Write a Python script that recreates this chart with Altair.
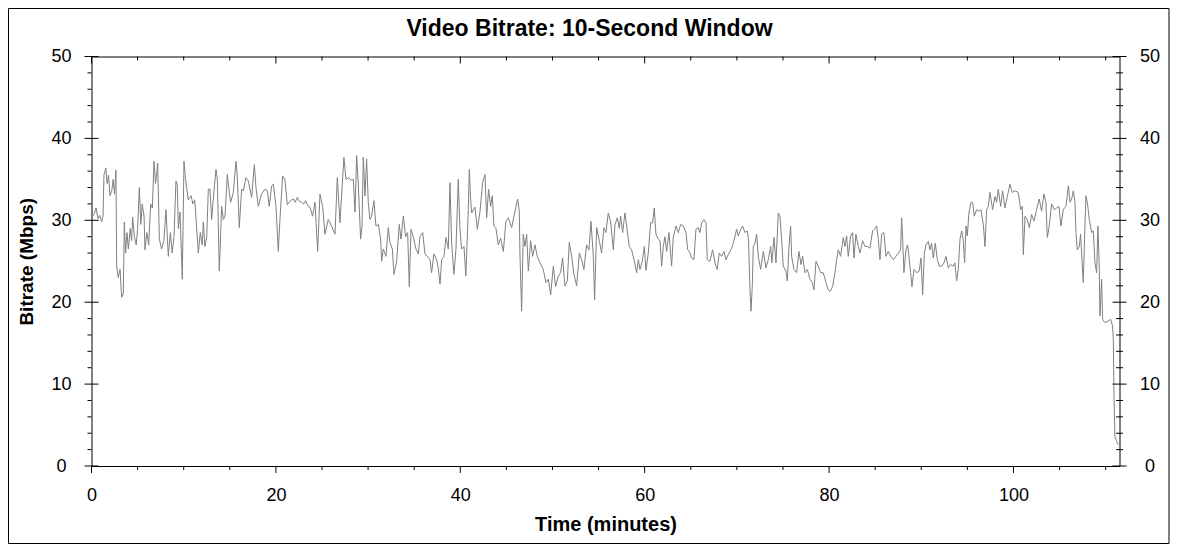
import altair as alt
import pandas as pd

# ---------------- data ----------------
time_min = [
    0.1, 0.3, 0.5, 0.7, 0.9, 1.1, 1.25, 1.35, 1.55, 1.7, 1.85, 2.0, 2.2, 2.35, 2.5, 2.65, 2.73, 2.9, 3.1, 3.27,
    3.45, 3.56, 3.7, 3.85, 4.0, 4.2, 4.35, 4.46, 4.65, 4.85, 5.0, 5.19, 5.35, 5.5, 5.7, 5.8, 6.0, 6.2, 6.42, 6.6,
    6.78, 6.95, 7.1, 7.18, 7.36, 7.6, 7.85, 8.08, 8.33, 8.55, 8.75, 8.95, 9.16, 9.3, 9.42, 9.6, 9.85, 10.03, 10.2, 10.32,
    10.5, 10.8, 11.0, 11.2, 11.4, 11.59, 11.8, 12.0, 12.13, 12.3, 12.5, 12.67,
    12.85, 13.03, 13.21, 13.5, 13.65, 13.86, 14.12, 14.3, 14.48, 14.73, 14.95, 15.09, 15.38, 15.67, 15.81, 16.03,
    16.28, 16.47, 16.75, 17.01, 17.37, 17.66, 17.84, 18.09, 18.45, 18.81, 19.07, 19.28, 19.54, 19.72, 20.01, 20.26,
    20.44, 20.73, 20.98, 21.24, 21.6, 21.89, 22.1, 22.32, 22.55, 22.79, 23.0, 23.22, 23.45, 23.7, 23.98, 24.24,
    24.53, 24.78, 25.07, 25.32, 25.68, 26.04, 26.41, 26.66,
    26.95, 27.2, 27.38, 27.6, 27.9, 28.15, 28.4, 28.58, 28.76, 28.94, 29.19, 29.34, 29.48, 29.66, 29.84, 30.02,
    30.2, 30.38, 30.64, 30.85, 31.11, 31.36, 31.47, 31.65, 31.94, 32.19, 32.37, 32.63, 32.81, 33.1, 33.38, 33.57,
    33.82, 34.07, 34.29, 34.47, 34.65, 34.9, 35.19, 35.45, 35.63, 35.92, 36.17, 36.42, 36.71, 36.89, 37.14, 37.43,
    37.61, 37.8, 37.98, 38.23, 38.45, 38.7, 38.88, 39.06, 39.31, 39.53, 39.78, 39.96, 40.14, 40.4, 40.6, 40.87,
    40.98, 41.1,
    41.23, 41.59, 41.85, 42.13, 42.42, 42.68, 42.86, 43.07, 43.29, 43.47, 43.65, 43.87, 44.12, 44.38, 44.67, 44.95,
    45.21, 45.57, 45.93, 46.22, 46.4, 46.47, 46.65, 46.83, 47.01, 47.2, 47.38, 47.63, 47.85, 48.1, 48.35, 48.64,
    49.0, 49.29, 49.55, 49.8, 50.09, 50.34, 50.63, 50.88, 51.1, 51.35, 51.61, 51.82, 52.08, 52.33, 52.62, 52.91,
    53.16, 53.41, 53.7, 53.96, 54.17, 54.43, 54.57, 54.79, 55.08,
    55.33, 55.58, 55.8, 56.05, 56.31, 56.6, 56.78, 57.03, 57.25, 57.39, 57.61, 57.86, 58.04, 58.33, 58.58, 58.84,
    59.13, 59.31, 59.49, 59.74, 59.96, 60.14, 60.39, 60.64, 60.86, 61.04, 61.22, 61.48, 61.66, 61.84, 62.02, 62.2,
    62.38, 62.63, 62.92, 63.1, 63.39, 63.65, 63.9, 64.19, 64.48, 64.66, 64.84, 65.09, 65.34, 65.56, 65.81, 65.99,
    66.18, 66.43, 66.65, 66.79, 67.08, 67.37, 67.62, 67.87, 68.09, 68.34, 68.6, 68.81, 69.07,
    69.25, 69.43, 69.61, 69.97, 70.15, 70.41, 70.62, 70.88, 71.13, 71.27, 71.42, 71.53, 71.67, 71.78, 71.96, 72.14,
    72.32, 72.58, 72.87, 73.15, 73.41, 73.66, 73.8, 74.02, 74.24, 74.49, 74.67, 74.85, 75.03, 75.32, 75.47, 75.65,
    75.83, 75.94, 76.19, 76.48, 76.73, 76.95, 77.13, 77.38, 77.64, 77.93, 78.18, 78.36, 78.58, 78.83, 79.08, 79.37,
    79.66, 79.91, 80.1, 80.38, 80.64, 80.82, 81.0, 81.25, 81.54, 81.72, 81.9, 82.08, 82.34, 82.55, 82.7, 82.91, 83.17,
    83.35, 83.64, 83.89, 84.15, 84.43, 84.72, 84.98, 85.16, 85.34, 85.52, 85.7, 85.95, 86.17, 86.42, 86.68, 86.97,
    87.25, 87.51, 87.76, 87.87, 87.98, 88.12, 88.34, 88.52, 88.7, 88.84, 88.99, 89.21, 89.5, 89.78, 89.97, 90.15,
    90.33, 90.51, 90.76, 90.94, 91.12, 91.3, 91.52, 91.74, 91.95, 92.21, 92.46, 92.68, 92.93, 93.18, 93.47, 93.65,
    93.83, 94.01, 94.2, 94.38, 94.56, 94.7, 94.85, 94.99, 95.17, 95.39, 95.57, 95.75, 96.0, 96.26, 96.47, 96.73,
    96.91, 97.09, 97.27,
    97.45, 97.74, 97.99, 98.17, 98.35, 98.61, 98.82, 99.08, 99.33, 99.62, 99.87, 100.16, 100.52, 100.78, 100.96,
    101.07, 101.25, 101.5, 101.72, 101.97, 102.22, 102.51, 102.8, 103.05, 103.31, 103.52, 103.67, 103.88, 104.14,
    104.43, 104.68, 104.93, 105.15, 105.4, 105.69, 105.95, 106.13, 106.31, 106.49, 106.67, 106.78, 106.92, 107.14,
    107.28, 107.43, 107.57, 107.75, 107.86, 108.01, 108.22, 108.48, 108.66, 108.84, 109.02, 109.16, 109.31, 109.38,
    109.56, 109.67, 109.92, 110.28, 110.54, 110.75, 110.83, 110.9, 111.0, 111.19, 111.37,
]

bitrate_mbps = [
    30.5, 30.8, 31.5, 30.2, 30.6, 29.8, 30.5, 35.5, 36.4, 34.5, 35.5, 33.0, 33.6, 35.0, 33.2, 36.1, 24.4, 23.0, 24.0, 20.6,
    21.0, 29.8, 26.0, 28.5, 26.5, 29.0, 27.5, 30.4, 28.0, 27.0, 29.0, 34.0, 29.5, 32.0, 30.5, 26.4, 28.5, 27.0, 32.0, 31.5,
    37.2, 34.5, 36.0, 37.0, 27.7, 26.5, 27.5, 31.3, 25.6, 28.5, 26.0, 28.0, 34.8, 34.4, 29.0, 31.0, 22.8, 37.2, 35.0, 34.0,
    32.5, 33.0, 32.0, 32.5, 29.1, 26.0, 28.5, 27.0, 29.8, 26.8, 28.0, 33.8,
    33.8, 30.1, 32.6, 36.2, 35.0, 23.8, 31.7, 30.1, 30.5, 35.6, 33.4, 32.2, 33.4, 37.2, 35.4, 29.1,
    33.8, 33.6, 35.2, 34.8, 32.8, 36.8, 34.0, 31.7, 33.2, 33.8, 33.6, 31.7, 34.2, 34.4, 31.7, 26.2,
    30.1, 35.4, 35.0, 31.9, 32.4, 32.6, 32.2, 32.8, 32.3, 32.2, 32.0, 32.4, 31.8, 31.6, 30.5, 32.2,
    26.2, 33.2, 31.7, 28.3, 30.1, 29.3, 28.3, 35.2,
    29.7, 34.4, 37.7, 35.0, 35.2, 34.9, 35.0, 31.0, 37.9, 34.3, 27.7, 29.3, 37.7, 33.0, 37.5, 32.2,
    30.1, 30.5, 32.4, 29.3, 29.5, 27.7, 25.0, 26.5, 25.6, 29.1, 27.3, 26.5, 23.4, 25.0, 29.5, 27.7,
    30.5, 28.0, 28.5, 21.9, 28.9, 28.0, 26.5, 25.9, 28.0, 28.5, 25.9, 25.6, 25.2, 23.6, 25.9, 25.2,
    24.2, 22.2, 25.2, 25.6, 27.9, 26.5, 34.6, 27.3, 23.4, 26.5, 35.0, 29.0, 26.5, 26.8, 23.2, 31.3,
    36.2, 33.0,
    30.9, 31.6, 28.9, 31.0, 34.6, 35.6, 30.3, 33.8, 31.7, 33.0, 29.3, 29.0, 27.0, 27.8, 26.2, 29.9,
    30.3, 29.1, 31.1, 32.6, 31.1, 26.0, 18.9, 28.3, 26.8, 28.3, 23.8, 27.5, 25.6, 27.0, 25.6, 24.8,
    24.0, 22.4, 22.8, 20.9, 24.4, 21.9, 23.2, 23.6, 25.4, 22.0, 22.6, 27.3, 25.6, 23.4, 22.0, 26.0,
    25.2, 24.0, 27.0, 26.4, 29.9, 25.6, 20.3, 29.1, 27.5,
    26.0, 29.1, 28.5, 30.9, 29.8, 26.4, 29.5, 30.3, 29.0, 30.5, 28.5, 30.9, 29.3, 26.8, 26.4, 25.2,
    23.6, 25.2, 24.0, 25.0, 26.8, 23.9, 26.0, 29.7, 29.7, 31.5, 28.3, 27.7, 27.5, 24.4, 26.8, 28.0,
    26.2, 28.5, 24.4, 27.9, 29.3, 28.5, 29.5, 29.3, 28.5, 26.4, 26.2, 25.4, 25.2, 28.9, 29.1, 28.5,
    29.7, 30.1, 29.7, 25.2, 25.0, 26.4, 24.8, 24.0, 26.0, 25.6, 26.2, 25.2, 25.8,
    26.2, 26.6, 27.2, 28.9, 28.1, 28.9, 29.3, 28.5, 28.7, 27.5, 21.5, 18.9, 22.0, 26.8, 27.2, 28.3,
    25.6, 24.0, 26.2, 24.2, 25.2, 26.8, 24.8, 27.9, 24.8, 30.9, 30.5, 27.7, 24.4, 23.8, 22.6, 26.8,
    29.3, 25.6, 24.0, 23.6, 26.2, 24.6, 25.6, 23.6, 24.0, 22.8, 22.4, 21.5, 25.0, 24.4, 23.6, 23.6,
    22.4, 21.5, 21.3, 21.9, 23.6, 25.2, 26.4, 25.6, 27.9, 26.8, 28.1, 25.6, 28.1, 28.5, 25.4, 28.3, 26.8,
    26.0, 27.5, 26.8, 26.8, 26.6, 28.7, 29.0, 29.3, 27.7, 25.2, 28.3, 28.5, 25.6, 26.2, 25.6, 25.2,
    25.6, 26.0, 26.4, 30.3, 27.7, 23.6, 26.4, 27.0, 25.2, 23.6, 21.9, 24.0, 23.6, 23.8, 25.4, 20.9,
    26.0, 27.0, 27.4, 26.4, 27.2, 25.4, 27.2, 25.2, 24.4, 24.4, 24.8, 25.6, 24.2, 24.6, 24.4, 24.8,
    22.6, 24.0, 27.7, 28.7, 27.5, 24.8, 29.3, 28.1, 30.9, 32.2, 32.2, 30.5, 31.3, 31.1, 31.3, 29.5,
    26.8, 31.3, 31.7,
    33.4, 31.3, 32.9, 32.2, 33.8, 31.7, 33.6, 31.5, 32.9, 34.4, 33.4, 33.6, 33.4, 31.3, 31.7,
    25.8, 30.5, 30.1, 29.1, 30.7, 29.9, 31.3, 32.6, 31.1, 33.2, 32.2, 27.9, 29.3, 32.0,
    31.3, 31.5, 31.7, 29.3, 31.3, 31.7, 34.2, 32.2, 32.6, 33.6, 32.2, 28.5, 26.4, 26.8,
    28.3, 25.2, 22.4, 29.3, 33.0, 32.2, 30.1, 28.5, 28.7, 24.8, 23.6, 29.3, 24.0, 18.3,
    22.8, 17.9, 17.5, 17.7, 17.9, 17.1, 15.4, 8.9, 3.6, 3.0, 2.6,
]

x_major_ticks = [0, 20, 40, 60, 80, 100]
x_minor_ticks = [5, 10, 15, 25, 30, 35, 45, 50, 55, 65, 70, 75, 85, 90, 95, 105, 110]
y_major_ticks = [0, 10, 20, 30, 40, 50]
y_minor_ticks = [2, 4, 6, 8, 12, 14, 16, 18, 22, 24, 26, 28, 32, 34, 36, 38, 42, 44, 46, 48]

chart_title = "Video Bitrate: 10-Second Window"
x_title = "Time (minutes)"
y_title = "Bitrate (Mbps)"

# ---------------- layout ----------------
W = 1028
H = 409.5
FONT = "Liberation Sans"

line_df = pd.DataFrame({"t": time_min, "v": bitrate_mbps})
xmaj_df = pd.DataFrame({"t": x_major_ticks})
xmin_df = pd.DataFrame({"t": x_minor_ticks})
ymaj_df = pd.DataFrame({"v": y_major_ticks})
ymin_df = pd.DataFrame({"v": y_minor_ticks})

xscale = alt.Scale(domain=[0, 111.5], nice=False, zero=False)
yscale = alt.Scale(domain=[0, 50], nice=False)

x_axis = alt.Axis(values=x_major_ticks, labelPadding=20, labelFlush=False, titleY=64,
                  titleBaseline="alphabetic", titleFontSize=20)


def x_enc():
    return alt.X("t:Q", scale=xscale, title=x_title, axis=x_axis)


line = alt.Chart(line_df).mark_line(color="#808080", strokeWidth=1).encode(
    x=x_enc(),
    y=alt.Y("v:Q", scale=yscale, title=y_title,
            axis=alt.Axis(values=y_major_ticks, orient="left", labelAlign="center",
                          labelFlush=False, labelPadding=30.5, titleX=-65.5,
                          titleBaseline="middle", titleAngle=270, titleFontSize=19)),
)

right_axis = alt.Chart(ymaj_df).mark_rule(color="black", strokeWidth=1).encode(
    y=alt.Y("v:Q", scale=yscale,
            axis=alt.Axis(values=y_major_ticks, orient="right", labelAlign="center",
                          labelFlush=False, labelPadding=30, title=None)),
    x=alt.value(W - 7), x2=alt.value(W + 7),
)


def hrule(df, x0, x1):
    return alt.Chart(df).mark_rule(color="black", strokeWidth=1).encode(
        y=alt.Y("v:Q", scale=yscale, axis=None), x=alt.value(x0), x2=alt.value(x1))


def vrule(df, y0, y1):
    return alt.Chart(df).mark_rule(color="black", strokeWidth=1).encode(
        x=x_enc(), y=alt.value(y0), y2=alt.value(y1))


left_major = hrule(ymaj_df, -7, 7)
left_minor = hrule(ymin_df, -4, 0)
right_minor = hrule(ymin_df, W - 3.5, W + 3.5)
bottom_major = vrule(xmaj_df, H, H + 7)
bottom_minor = vrule(xmin_df, H, H + 4)
top_major = vrule(xmaj_df, 0, 7)
top_minor = vrule(xmin_df, 0, 4)

title = alt.Chart(pd.DataFrame({"label": [chart_title]})).mark_text(
    font=FONT, fontSize=23, fontWeight="bold", color="black", align="center",
    baseline="alphabetic").encode(text="label:N", x=alt.value(498), y=alt.value(-21))

border = alt.Chart(pd.DataFrame({"k": [0]})).mark_rect(
    fillOpacity=0, stroke="black", strokeWidth=1).encode(
    x=alt.value(-83), x2=alt.value(1077.5), y=alt.value(-48), y2=alt.value(487))

chart = alt.layer(
    line, border, right_axis, left_major, left_minor, right_minor,
    bottom_major, bottom_minor, top_major, top_minor, title,
).resolve_axis(y="independent").properties(
    width=W, height=H,
    autosize=alt.AutoSizeParams(type="none"),
    padding={"left": 83.5, "top": 48.5, "right": 50, "bottom": 78},
    background="white",
).configure_view(
    stroke="black", strokeWidth=1,
).configure_axis(
    grid=False, ticks=False, tickSize=0, domain=False,
    labelFont=FONT, labelFontSize=18, labelColor="black",
    titleFont=FONT, titleFontSize=18, titleFontWeight="bold", titleColor="black",
)

chart.save("out.html", embed_options={"renderer": "svg", "actions": False})
